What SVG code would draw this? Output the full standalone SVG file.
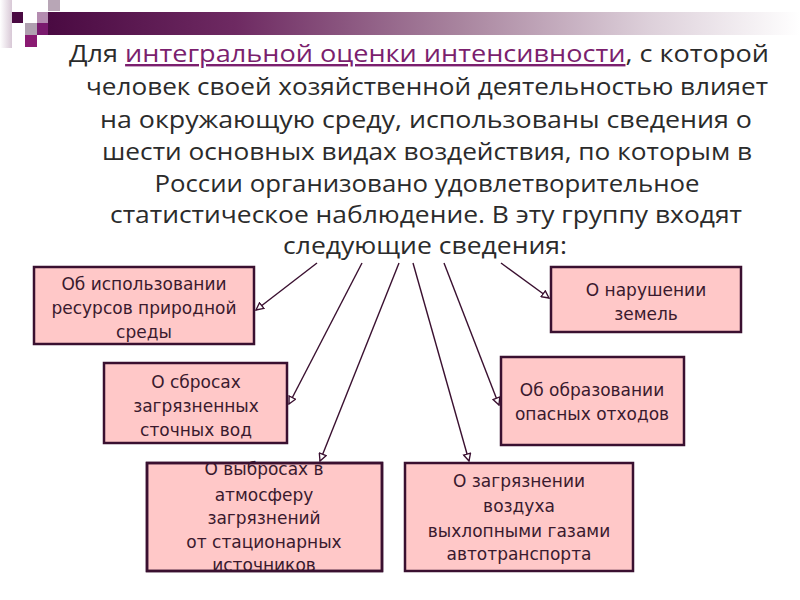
<svg xmlns="http://www.w3.org/2000/svg" width="800" height="600" viewBox="0 0 800 600">
<style>
.title{font-family:"Open Sans","Liberation Sans",sans-serif;font-size:24px;fill:#2b2b2b;text-anchor:middle}
.hl{fill:#7b1f6e;text-decoration:underline}
.box{fill:#ffc8c8;stroke:#3a1030;stroke-width:2.5}
.lbl{font-family:"DejaVu Sans","Liberation Sans",sans-serif;font-size:17px;fill:#3a1a2e;text-anchor:middle}
.conn{stroke:#3a1030;stroke-width:1.4;fill:none;marker-end:url(#arr)}
</style>
<defs>
<linearGradient id="bar" x1="0" y1="0" x2="1" y2="0">
<stop offset="0" stop-color="#4a0a42"/>
<stop offset="0.25" stop-color="#6e2a62"/>
<stop offset="0.55" stop-color="#a9859f"/>
<stop offset="0.8" stop-color="#ddd0da"/>
<stop offset="1" stop-color="#ffffff"/>
</linearGradient>
<linearGradient id="edge" x1="0" y1="0" x2="1" y2="0">
<stop offset="0" stop-color="#ffffff"/>
<stop offset="1" stop-color="#d8c8d6"/>
</linearGradient>
<marker id="arr" viewBox="0 0 10 10" refX="9" refY="5" markerWidth="9" markerHeight="9" markerUnits="userSpaceOnUse" orient="auto">
<path d="M1,1 L9,5 L1,9 Z" fill="#ffffff" stroke="#3a1030" stroke-width="1.5"/>
</marker>
</defs>

<g id="header">
<rect x="48" y="12" width="752" height="23" fill="url(#bar)"/>
<rect x="0" y="0" width="12" height="48" fill="url(#edge)"/>
<rect x="12" y="12" width="11" height="11" fill="#4a0a42"/>
<rect x="48" y="0" width="12" height="11" fill="#b8a6b6"/>
<rect x="37" y="12" width="11" height="11" fill="#b48cb0"/>
<rect x="25" y="23" width="12" height="12" fill="#b0a0b0"/>
<rect x="37" y="23" width="11" height="12" fill="#7a1a6e"/>
<rect x="25" y="35" width="12" height="12" fill="#8a1a72"/>
</g>

<g id="title">
<text class="title" x="419" y="62" textLength="700" lengthAdjust="spacingAndGlyphs">Для <tspan class="hl">интегральной оценки интенсивности</tspan>, с которой</text>
<text class="title" x="427" y="95" textLength="682" lengthAdjust="spacingAndGlyphs">человек своей хозяйственной деятельностью влияет</text>
<text class="title" x="426" y="128" textLength="652" lengthAdjust="spacingAndGlyphs">на окружающую среду, использованы сведения о</text>
<text class="title" x="427" y="160" textLength="650" lengthAdjust="spacingAndGlyphs">шести основных видах воздействия, по которым в</text>
<text class="title" x="427" y="192" textLength="545" lengthAdjust="spacingAndGlyphs">России организовано удовлетворительное</text>
<text class="title" x="426" y="223" textLength="632" lengthAdjust="spacingAndGlyphs">статистическое наблюдение. В эту группу входят</text>
<text class="title" x="425" y="254" textLength="284" lengthAdjust="spacingAndGlyphs">следующие сведения:</text>
</g>

<g id="connectors">
<line class="conn" x1="317" y1="263" x2="256" y2="310"/>
<line class="conn" x1="362" y1="263" x2="289" y2="404"/>
<line class="conn" x1="399" y1="263" x2="320" y2="461"/>
<line class="conn" x1="413" y1="263" x2="469" y2="461"/>
<line class="conn" x1="444" y1="263" x2="499" y2="405"/>
<line class="conn" x1="501" y1="263" x2="549" y2="298"/>
</g>

<g id="node-resources">
<rect class="box" x="34" y="267" width="220" height="77"/>
<text class="lbl" x="144" y="290">Об использовании</text>
<text class="lbl" x="144" y="314">ресурсов природной</text>
<text class="lbl" x="144" y="338">среды</text>
</g>

<g id="node-water">
<rect class="box" x="104" y="363" width="183" height="80"/>
<text class="lbl" x="196" y="388">О сбросах</text>
<text class="lbl" x="196" y="412">загрязненных</text>
<text class="lbl" x="196" y="436">сточных вод</text>
</g>

<g id="node-land">
<rect class="box" x="551" y="267" width="190" height="65"/>
<text class="lbl" x="646" y="296">О нарушении</text>
<text class="lbl" x="646" y="320">земель</text>
</g>

<g id="node-waste">
<rect class="box" x="501" y="357" width="183" height="88"/>
<text class="lbl" x="592" y="396">Об образовании</text>
<text class="lbl" x="592" y="420">опасных отходов</text>
</g>

<g id="node-emissions">
<rect class="box" x="147" y="463" width="235" height="108"/>
<text class="lbl" x="264" y="475">О выбросах в</text>
<text class="lbl" x="264" y="501">атмосферу</text>
<text class="lbl" x="264" y="524">загрязнений</text>
<text class="lbl" x="264" y="548">от стационарных</text>
<text class="lbl" x="264" y="571">источников</text>
<rect x="147" y="463" width="235" height="108" fill="none" stroke="#3a1030" stroke-width="2.5"/>
</g>

<g id="node-air">
<rect class="box" x="405" y="463" width="228" height="108"/>
<text class="lbl" x="519" y="487">О загрязнении</text>
<text class="lbl" x="519" y="512">воздуха</text>
<text class="lbl" x="519" y="537">выхлопными газами</text>
<text class="lbl" x="519" y="560">автотранспорта</text>
</g>
</svg>
